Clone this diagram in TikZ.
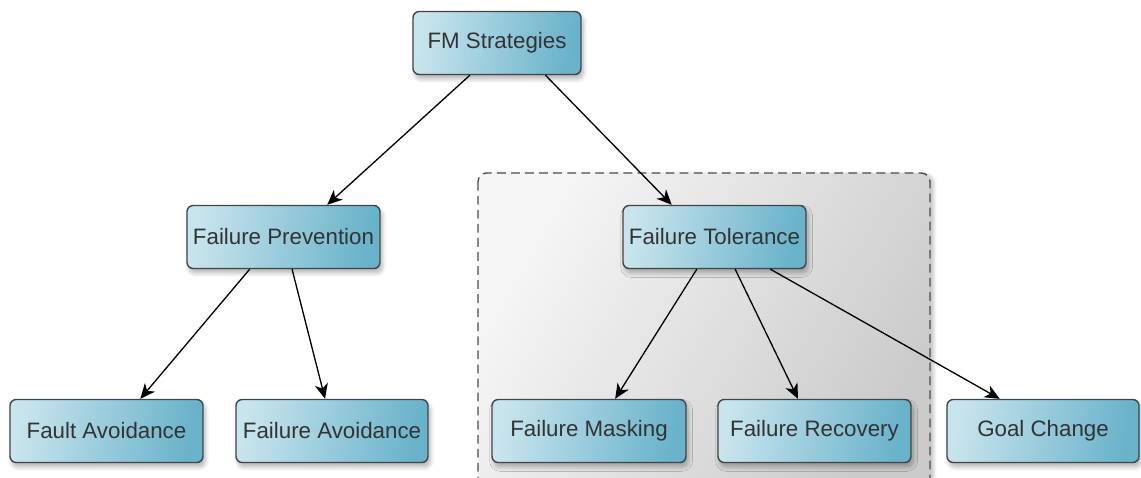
\documentclass[tikz,border=0pt]{standalone}
\usepackage{fontspec}
\setmainfont{Liberation Sans}
\usetikzlibrary{arrows.meta,calc,shadows.blur}
\definecolor{boxlight}{HTML}{C8E4ED}
\definecolor{boxdark}{HTML}{68B2CA}
\definecolor{boxline}{HTML}{444444}
\definecolor{txt}{HTML}{333333}
\definecolor{grplight}{HTML}{F6F6F6}
\definecolor{grpdark}{HTML}{CBCBCB}
\tikzset{
  x=0.02cm, y=-0.02cm,
  stratbox/.style={draw=boxline, line width=0.8pt, rounded corners=3.5pt,
    left color=boxlight, right color=boxdark, shading angle=80,
    text=txt, font=\fontsize{12.7}{15}\selectfont,
    minimum height=1.26cm, inner sep=0pt,
    blur shadow={shadow xshift=1.2pt, shadow yshift=-2.5pt, shadow blur radius=2.5pt,
      shadow blur steps=8, shadow opacity=30}},
  arr/.style={-{Stealth[length=8.5pt,width=7.5pt,inset=2.5pt]}, line width=0.75pt, black},
  grp/.style={draw=black!70, dashed, dash pattern=on 5pt off 3pt, line width=0.8pt,
    rounded corners=5pt, left color=grplight, right color=grpdark, shading angle=60,
    blur shadow={shadow xshift=2pt, shadow yshift=-1pt, shadow blur steps=6, shadow opacity=25}}
}
\begin{document}
\begin{tikzpicture}
\useasboundingbox (0,0) rectangle (1141,477);
% grouping frame behind the tolerance branch
\path[grp] (478,173) rectangle (930,490);

\node[stratbox, minimum width=3.36cm] (fm)  at (497,43)  {FM Strategies};
\node[stratbox, minimum width=3.86cm] (fp)  at (283.5,237) {Failure Prevention};
\node[stratbox, minimum width=3.66cm] (ft)  at (714.5,237) {Failure Tolerance};
\node[stratbox, minimum width=3.86cm] (fa)  at (106.5,431) {Fault Avoidance};
\node[stratbox, minimum width=3.84cm] (fav) at (332,431) {Failure Avoidance};
\node[stratbox, minimum width=3.88cm] (fms) at (589,431) {Failure Masking};
\node[stratbox, minimum width=3.86cm] (fr)  at (814.5,431) {Failure Recovery};
\node[stratbox, minimum width=3.84cm] (gc)  at (1043,431) {Goal Change};

\draw[arr] ($(fm.south west)!0.34!(fm.south east)$) -- ($(fp.north west)!0.725!(fp.north east)$);
\draw[arr] ($(fm.south west)!0.786!(fm.south east)$) -- ($(ft.north west)!0.268!(ft.north east)$);
\draw[arr] ($(fp.south west)!0.326!(fp.south east)$) -- ($(fa.north west)!0.674!(fa.north east)$);
\draw[arr] ($(fp.south west)!0.544!(fp.south east)$) -- ($(fav.north west)!0.464!(fav.north east)$);
\draw[arr] ($(ft.south west)!0.404!(ft.south east)$) -- ($(fms.north west)!0.634!(fms.north east)$);
\draw[arr] ($(ft.south west)!0.612!(ft.south east)$) -- ($(fr.north west)!0.415!(fr.north east)$);
\draw[arr] ($(ft.south west)!0.803!(ft.south east)$) -- ($(gc.north west)!0.276!(gc.north east)$);
\end{tikzpicture}
\end{document}
